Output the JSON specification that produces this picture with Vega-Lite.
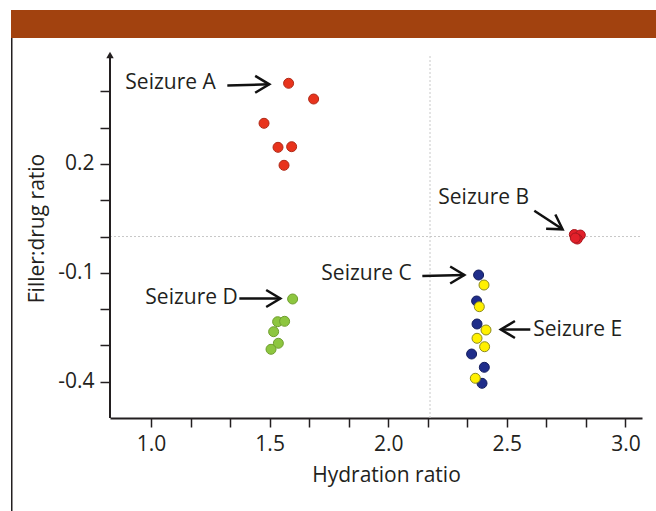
{
  "$schema": "https://vega.github.io/schema/vega-lite/v6.json",
  "background": "white",
  "padding": {"left": 9, "top": 10, "right": 0, "bottom": 0},
  "spacing": 0,
  "config": {
    "font": "Open Sans",
    "view": {"stroke": null},
    "axis": {
      "grid": false,
      "labelFont": "Open Sans",
      "labelFontSize": 21,
      "labelColor": "#231F20",
      "titleFont": "Open Sans",
      "titleFontSize": 21,
      "titleFontWeight": "normal",
      "titleColor": "#231F20",
      "tickColor": "#231F20",
      "tickWidth": 1.5,
      "domainColor": "#231F20",
      "domainWidth": 2,
      "labelOverlap": false,
      "labelFlush": false
    }
  },
  "datasets": {
    "points": [
      {"seizure": "A", "hydration": 1.580, "filler": 0.4222},
      {"seizure": "A", "hydration": 1.6855, "filler": 0.3789},
      {"seizure": "A", "hydration": 1.4764, "filler": 0.3120},
      {"seizure": "A", "hydration": 1.5354, "filler": 0.2458},
      {"seizure": "A", "hydration": 1.5928, "filler": 0.2475},
      {"seizure": "A", "hydration": 1.5607, "filler": 0.1963},
      {"seizure": "B", "hydration": 2.7846, "filler": 0.0055},
      {"seizure": "B", "hydration": 2.8099, "filler": 0.0041},
      {"seizure": "B", "hydration": 2.7972, "filler": -0.0069},
      {"seizure": "B", "hydration": 2.7888, "filler": -0.0041},
      {"seizure": "D", "hydration": 1.5970, "filler": -0.1721},
      {"seizure": "D", "hydration": 1.5337, "filler": -0.2347},
      {"seizure": "D", "hydration": 1.5632, "filler": -0.2336},
      {"seizure": "D", "hydration": 1.5169, "filler": -0.2622},
      {"seizure": "D", "hydration": 1.5367, "filler": -0.2941},
      {"seizure": "D", "hydration": 1.5059, "filler": -0.3107},
      {"seizure": "C", "hydration": 2.3811, "filler": -0.1060},
      {"seizure": "C", "hydration": 2.3727, "filler": -0.1776},
      {"seizure": "C", "hydration": 2.3744, "filler": -0.2410},
      {"seizure": "C", "hydration": 2.3516, "filler": -0.3237},
      {"seizure": "C", "hydration": 2.4052, "filler": -0.3603},
      {"seizure": "C", "hydration": 2.3955, "filler": -0.4044},
      {"seizure": "E", "hydration": 2.4039, "filler": -0.1336},
      {"seizure": "E", "hydration": 2.3841, "filler": -0.1933},
      {"seizure": "E", "hydration": 2.4123, "filler": -0.2575},
      {"seizure": "E", "hydration": 2.3744, "filler": -0.2804},
      {"seizure": "E", "hydration": 2.4064, "filler": -0.3036},
      {"seizure": "E", "hydration": 2.3672, "filler": -0.3906}
    ],
    "labels": [
      {"label": "Seizure A", "x": 0.8917, "y": 0.423},
      {"label": "Seizure B", "x": 2.2112, "y": 0.1062},
      {"label": "Seizure C", "x": 1.718, "y": -0.1032},
      {"label": "Seizure D", "x": 0.976, "y": -0.1694},
      {"label": "Seizure E", "x": 2.6117, "y": -0.2575}
    ],
    "arrows": [
      {"seizure": "A", "x": 1.3217, "y": 0.4161, "x2": 1.4987, "y2": 0.4194, "angle": 0},
      {"seizure": "B", "x": 2.6159, "y": 0.0712, "x2": 2.7352, "y2": 0.0199, "angle": 33},
      {"seizure": "C", "x": 2.1438, "y": -0.1088, "x2": 2.3209, "y2": -0.1060, "angle": 0},
      {"seizure": "D", "x": 1.3723, "y": -0.1708, "x2": 1.5451, "y2": -0.1708, "angle": 0},
      {"seizure": "E", "x": 2.5991, "y": -0.2562, "x2": 2.4747, "y2": -0.2562, "angle": 180}
    ]
  },
  "vconcat": [
    {
      "width": 647,
      "height": 28,
      "view": {"fill": "#A2420F", "stroke": null},
      "data": {"values": [{}]},
      "mark": {"type": "point", "opacity": 0},
      "encoding": {}
    },
    {
      "spacing": 11,
      "hconcat": [
        {
          "width": 1.5,
          "height": 473,
          "view": {"fill": "#231F20", "stroke": null},
          "data": {"values": [{}]},
          "mark": {"type": "point", "opacity": 0},
          "encoding": {}
        },
        {
          "width": 532,
          "height": 380,
          "layer": [
            {
              "data": {"values": [{}]},
              "mark": {"type": "rule", "color": "#c8c8c8", "strokeWidth": 1, "strokeDash": [2, 2]},
              "encoding": {
                "x": {"datum": 2.1762, "type": "quantitative"},
                "y": {"datum": -0.5, "type": "quantitative"},
                "y2": {"datum": 0.5}
              }
            },
            {
              "data": {"values": [{}]},
              "mark": {"type": "rule", "color": "#c8c8c8", "strokeWidth": 1, "strokeDash": [2, 2]},
              "encoding": {
                "y": {"datum": 0.0, "type": "quantitative"},
                "x": {"datum": 0.827, "type": "quantitative"},
                "x2": {"datum": 3.07}
              }
            },
            {
              "data": {"values": [{}]},
              "mark": {"type": "rule", "color": "#231F20", "strokeWidth": 2},
              "encoding": {
                "x": {"datum": 0.827, "type": "quantitative"},
                "y": {"datum": -0.5, "type": "quantitative"},
                "y2": {"datum": 0.5}
              }
            },
            {
              "data": {"values": [{}]},
              "mark": {"type": "point", "shape": "triangle-up", "filled": true, "color": "#231F20", "size": 55, "opacity": 1},
              "encoding": {
                "x": {"datum": 0.827, "type": "quantitative"},
                "y": {"datum": 0.5, "type": "quantitative"}
              }
            },
            {
              "data": {"name": "points"},
              "mark": {"type": "point", "filled": true, "size": 100, "strokeWidth": 1, "opacity": 1},
              "encoding": {
                "x": {
                  "field": "hydration",
                  "type": "quantitative",
                  "scale": {"domain": [0.827, 3.07], "nice": false, "zero": false},
                  "axis": {
                    "title": "Hydration ratio",
                    "titleX": 276,
                    "values": [1, 1.1667, 1.3333, 1.5, 1.6667, 1.8333, 2, 2.1667, 2.3333, 2.5, 2.6667, 2.8333, 3],
                    "labelExpr": "datum.value == 1 || datum.value == 1.5 || datum.value == 2 || datum.value == 2.5 || datum.value == 3 ? format(datum.value, '.1f') : ''",
                    "tickSize": 9,
                    "labelPadding": 6,
                    "titlePadding": 10
                  }
                },
                "y": {
                  "field": "filler",
                  "type": "quantitative",
                  "scale": {"domain": [-0.5, 0.547], "nice": false, "zero": false},
                  "axis": {
                    "title": "Filler:drug ratio",
                    "domain": false,
                    "values": [-0.4, -0.3, -0.2, -0.1, 0, 0.1, 0.2, 0.3, 0.4],
                    "labelExpr": "datum.value == 0.2 ? '0.2' : datum.value == -0.1 ? '-0.1' : datum.value == -0.4 ? '-0.4' : ''",
                    "tickSize": 10,
                    "labelPadding": 6,
                    "titlePadding": 10
                  }
                },
                "fill": {
                  "field": "seizure",
                  "type": "nominal",
                  "scale": {"domain": ["A", "B", "C", "D", "E"], "range": ["#E8331C", "#E3202A", "#1F2D8A", "#8DC63F", "#FFF000"]},
                  "legend": null
                },
                "stroke": {
                  "field": "seizure",
                  "type": "nominal",
                  "scale": {"domain": ["A", "B", "C", "D", "E"], "range": ["#B02A18", "#A8181F", "#141E5E", "#6F9E2E", "#8C8A20"]},
                  "legend": null
                }
              }
            },
            {
              "data": {"name": "arrows"},
              "mark": {"type": "rule", "color": "#111111", "strokeWidth": 2.5},
              "encoding": {
                "x": {"field": "x", "type": "quantitative"},
                "y": {"field": "y", "type": "quantitative"},
                "x2": {"field": "x2"},
                "y2": {"field": "y2"}
              }
            },
            {
              "data": {"name": "arrows"},
              "mark": {"type": "point", "shape": "M -1 -0.6 L 0 0 L -1 0.6", "filled": false, "color": "#111111", "strokeWidth": 2.5, "size": 800, "opacity": 1, "strokeJoin": "miter"},
              "encoding": {
                "x": {"field": "x2", "type": "quantitative"},
                "y": {"field": "y2", "type": "quantitative"},
                "angle": {"field": "angle", "type": "quantitative", "scale": null}
              }
            },
            {
              "data": {"name": "labels"},
              "mark": {"type": "text", "font": "Open Sans", "fontSize": 21, "align": "left", "baseline": "middle", "color": "#231F20"},
              "encoding": {
                "x": {"field": "x", "type": "quantitative"},
                "y": {"field": "y", "type": "quantitative"},
                "text": {"field": "label"}
              }
            }
          ]
        }
      ]
    }
  ]
}
